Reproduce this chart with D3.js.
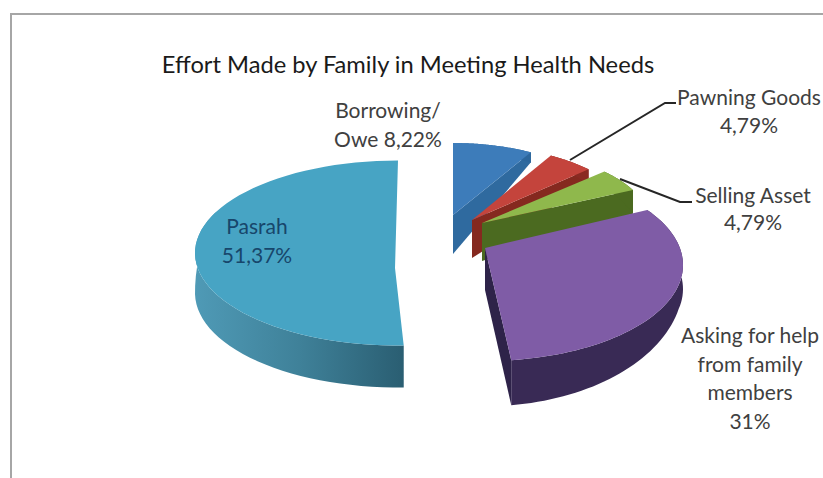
<!DOCTYPE html>
<html>
<head>
<meta charset="utf-8">
<script src="https://cdnjs.cloudflare.com/ajax/libs/d3/7.8.5/d3.min.js"></script>
<style>
  html, body { margin: 0; padding: 0; background: #fff; }
  svg { display: block; }
  text { font-family: Lato, "Noto Sans", sans-serif; text-anchor: middle; }
</style>
</head>
<body>
<script>
// Share of each coping strategy, clockwise from twelve o'clock
const categories = ["Borrowing/Owe", "Pawning Goods", "Selling Asset", "Asking for help from family members", "Pasrah"];
const values = [8.22, 4.79, 4.79, 31, 51.37];
const valueLabels = values.map(v => String(v).replace(".", ",") + "%");

const titleText = "Effort Made by Family in Meeting Health Needs";

const width = 823, height = 478;
const deg = Math.PI / 180;

// Projected geometry of each exploded wedge: apex, ellipse centre and radii, angle correction, wall depth
const wedgeGeometry = [
  { ax: 453, ay: 215, ex: 453, ey: 215, rx: 158, ry: 72, shift: [0, 0], depthAt: [-62, 0], depth: [10, 39], apexDepth: 39, face: true,
    top: "#3d7cba", wall: "#2c669c", faceFill: "#2f6a9f" },
  { ax: 472, ay: 220, ex: 472, ey: 220, rx: 160, ry: 74, shift: [0, 0], depthAt: [-62, 0], depth: [10, 39], apexDepth: 38, face: true,
    top: "#c4443c", wall: "#8a2a22", faceFill: "#85291f" },
  { ax: 482, ay: 223, ex: 482, ey: 223, rx: 168, ry: 75, shift: [0, 0], depthAt: [-62, 0], depth: [10, 39], apexDepth: 38, face: true,
    top: "#8fb84c", wall: "#4b6a20", faceFill: "#4b6a20" },
  { ax: 485, ay: 248, ex: 485, ey: 265, rx: 198, ry: 96, shift: [-9, -3], depthAt: [20, 95], depth: [24, 45], apexDepth: 42, face: true,
    top: "#7f5ca6", wall: "#392a55", faceFill: "#2e2349" },
  { ax: 395, ay: 268, ex: 398, ey: 253, rx: 203, ry: 92.5, shift: [3, 0], depthAt: [-93, -40, 0, 93], depth: [0, 0, 40, 42], apexDepth: 42, face: false,
    top: "#47a4c4", wall: "url(#pasrahWall)", faceFill: "none" }
];

// Paint order runs from the far side of the pie to the near side
const paintOrder = [4, 0, 1, 2, 3];

const svg = d3.select("body").append("svg").attr("width", width).attr("height", height);

const wallGradient = svg.append("defs").append("linearGradient")
  .attr("id", "pasrahWall").attr("x1", "0").attr("x2", "1").attr("y1", "0").attr("y2", "0");
wallGradient.append("stop").attr("offset", "0").attr("stop-color", "#4f9ab6");
wallGradient.append("stop").attr("offset", "0.5").attr("stop-color", "#3f8199");
wallGradient.append("stop").attr("offset", "1").attr("stop-color", "#2a5e72");

// Chart frame: open on the right and at the foot
svg.append("path")
  .attr("d", d3.line()([[11, 478], [11, 14], [823, 14]]))
  .attr("fill", "none").attr("stroke", "#a6a6a6").attr("stroke-width", 2);

const pie = d3.pie().sort(null).value(d => d)(values);
const line = d3.line();

function wedgeShape(slice, geo) {
  const phi = d3.scaleLinear()
    .domain([slice.startAngle, slice.endAngle])
    .range([slice.startAngle + geo.shift[0] * deg, slice.endAngle + geo.shift[1] * deg]);
  const depth = d3.scaleLinear().domain(geo.depthAt).range(geo.depth).clamp(true);
  const samples = d3.range(0, 61).map(i => slice.startAngle + (slice.endAngle - slice.startAngle) * i / 60);
  const rimTop = samples.map(t => {
    const a = phi(t);
    return [geo.ex + geo.rx * Math.sin(a), geo.ey - geo.ry * Math.cos(a)];
  });
  const rimBottom = rimTop.map(p => [p[0], p[1] + depth(p[1] - geo.ey)]);
  return { rimTop, rimBottom, apex: [geo.ax, geo.ay], apexLow: [geo.ax, geo.ay + geo.apexDepth] };
}

paintOrder.forEach(i => {
  const geo = wedgeGeometry[i];
  const s = wedgeShape(pie[i], geo);
  const g = svg.append("g").attr("class", "wedge");
  const last = s.rimTop.length - 1;
  if (geo.face) {
    g.append("path")
      .attr("d", line([s.apex, s.apexLow, s.rimBottom[last], s.rimTop[last]]) + "Z")
      .attr("fill", geo.faceFill);
  }
  g.append("path")
    .attr("d", line(s.rimTop.concat(s.rimBottom.slice().reverse())) + "Z")
    .attr("fill", geo.wall);
  g.append("path")
    .attr("d", line([s.apex].concat(s.rimTop)) + "Z")
    .attr("fill", geo.top);
});

// Leader lines for the two small wedges
const leaderLines = [
  [[570, 160], [665, 103], [676, 103]],
  [[620, 179], [680, 202], [692, 202]]
];
svg.selectAll("path.leader").data(leaderLines).join("path")
  .attr("class", "leader")
  .attr("d", d => line(d))
  .attr("fill", "none").attr("stroke", "#262626").attr("stroke-width", 2);

svg.append("text").attr("x", 408).attr("y", 73)
  .attr("font-size", 23.7).attr("fill", "#1a1a1a").text(titleText);

const labelLines = [
  ["Borrowing/", "Owe " + valueLabels[0]],
  ["Pawning Goods", valueLabels[1]],
  ["Selling Asset", valueLabels[2]],
  ["Asking for help", "from family", "members", valueLabels[3]],
  ["Pasrah", valueLabels[4]]
];
const labelPlacement = [
  { x: 388, y: 118, step: 28.5, fill: "#404040" },
  { x: 749, y: 105, step: 28, fill: "#404040" },
  { x: 753, y: 203, step: 27, fill: "#404040" },
  { x: 750, y: 343, step: 28.5, fill: "#404040" },
  { x: 257, y: 234, step: 29, fill: "#17466b" }
];
labelLines.forEach((rows, i) => {
  const p = labelPlacement[i];
  svg.selectAll(null).data(rows).join("text")
    .attr("x", p.x)
    .attr("y", (d, j) => p.y + j * p.step)
    .attr("font-size", 21)
    .attr("fill", p.fill)
    .text(d => d);
});
</script>
</body>
</html>
